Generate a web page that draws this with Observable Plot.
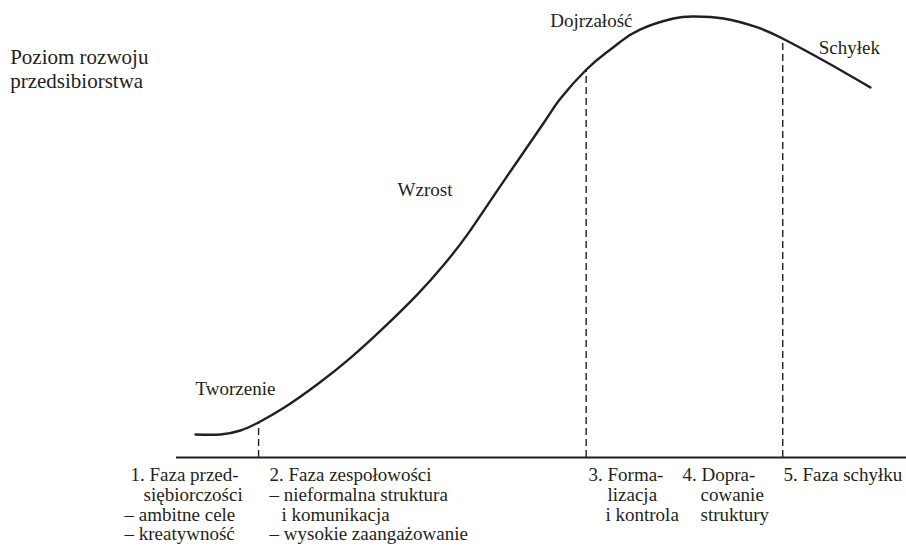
<!DOCTYPE html>
<html>
<head>
<meta charset="utf-8">
<script src="https://cdn.jsdelivr.net/npm/d3@7"></script>
<script src="https://cdn.jsdelivr.net/npm/@observablehq/plot@0.6"></script>
</head>
<body style="margin:0">
<div id="chart"></div>
<script>
// Life-cycle curve: time (0–100) vs. level of development (0–100)
const curveT     = [2.64, 6.11, 8.89, 11.39, 14.86, 19.58, 24.17, 28.75, 33.47, 37.08, 40.42, 45.0, 50.97, 53.33, 56.94, 59.86, 61.67, 64.44, 69.03, 71.81, 75.97, 80.69, 84.17, 89.86, 96.39];
const curveLevel = [5.22, 5.22, 6.12, 7.94, 11.2, 16.6, 22.6, 29.4, 37.0, 43.6, 50.6, 61.6, 75.8, 81.4, 87.98, 92.0, 94.3, 97.1, 99.55, 100.0, 99.55, 97.51, 95.01, 90.02, 83.9];

// Phase boundaries (dashed lines) and the curve level where they meet it
const boundaryT     = [11.4, 56.9, 84.2];
const boundaryLevel = [7.9, 88.0, 95.0];

// Stage names along the curve
const stageNames = ["Tworzenie", "Wzrost", "Dojrzałość", "Schyłek"];
const stageT     = [2.64, 30.7, 51.9, 89.2];
const stageLevel = [14.06, 59.4, 97.7, 91.6];

// Y-axis title (two lines)
const yTitle = ["Poziom rozwoju", "przedsibiorstwa"];
const yTitleLevel = [89.3, 83.9];

// Phase descriptions below the axis (one entry per printed line)
const phaseText = [
  "1. Faza przed-", "siębiorczości", "– ambitne cele", "– kreatywność",
  "2. Faza zespołowości", "– nieformalna struktura", "i komunikacja", "– wysokie zaangażowanie",
  "3. Forma-", "lizacja", "i kontrola",
  "4. Dopra-", "cowanie", "struktury",
  "5. Faza schyłku"
];
const phaseT     = [-6.39, -4.58, -7.22, -7.22,  12.92, 12.92, 14.58, 12.92,  57.22, 59.86, 59.58,  70.28, 72.78, 72.78,  84.31];
const phaseLevel = [-5.44, -9.86, -14.29, -18.71, -5.44, -9.86, -14.29, -18.71, -5.44, -9.86, -14.29, -5.44, -9.86, -14.29, -5.44];

const axisEnd = 101.4;
const ink = "#231f20";
const serif = "Liberation Serif";

const curve = curveT.map((t, i) => ({t, level: curveLevel[i]}));
const bounds = boundaryT.map((t, i) => ({t, level: boundaryLevel[i]}));
const stages = stageNames.map((name, i) => ({name, t: stageT[i], level: stageLevel[i]}));
const titles = yTitle.map((text, i) => ({text, level: yTitleLevel[i]}));
const phases = phaseText.map((text, i) => ({text, t: phaseT[i], level: phaseLevel[i]}));

const chart = Plot.plot({
  width: 906,
  height: 552,
  marginLeft: 176,
  marginRight: 10,
  marginTop: 16,
  marginBottom: 95,
  x: {domain: [0, 100], axis: null},
  y: {domain: [0, 100], axis: null},
  marks: [
    Plot.ruleY([0], {x1: 0, x2: axisEnd, stroke: ink, strokeWidth: 2.2}),
    Plot.ruleX(bounds, {x: "t", y1: 0, y2: "level", stroke: ink, strokeWidth: 1.4, strokeDasharray: "7,4"}),
    Plot.line(curve, {x: "t", y: "level", curve: "natural", stroke: ink, strokeWidth: 2.4}),
    Plot.text(stages, {x: "t", y: "level", text: "name", textAnchor: "start", lineAnchor: "bottom", fontFamily: serif, fontSize: 19, fill: ink}),
    Plot.text(titles, {x: -23.1, y: "level", text: "text", textAnchor: "start", lineAnchor: "bottom", fontFamily: serif, fontSize: 21, fill: ink}),
    Plot.text(phases, {x: "t", y: "level", text: "text", textAnchor: "start", lineAnchor: "bottom", fontFamily: serif, fontSize: 19, fill: ink})
  ]
});
chart.style.overflow = "visible";
document.getElementById("chart").appendChild(chart);
</script>
</body>
</html>
